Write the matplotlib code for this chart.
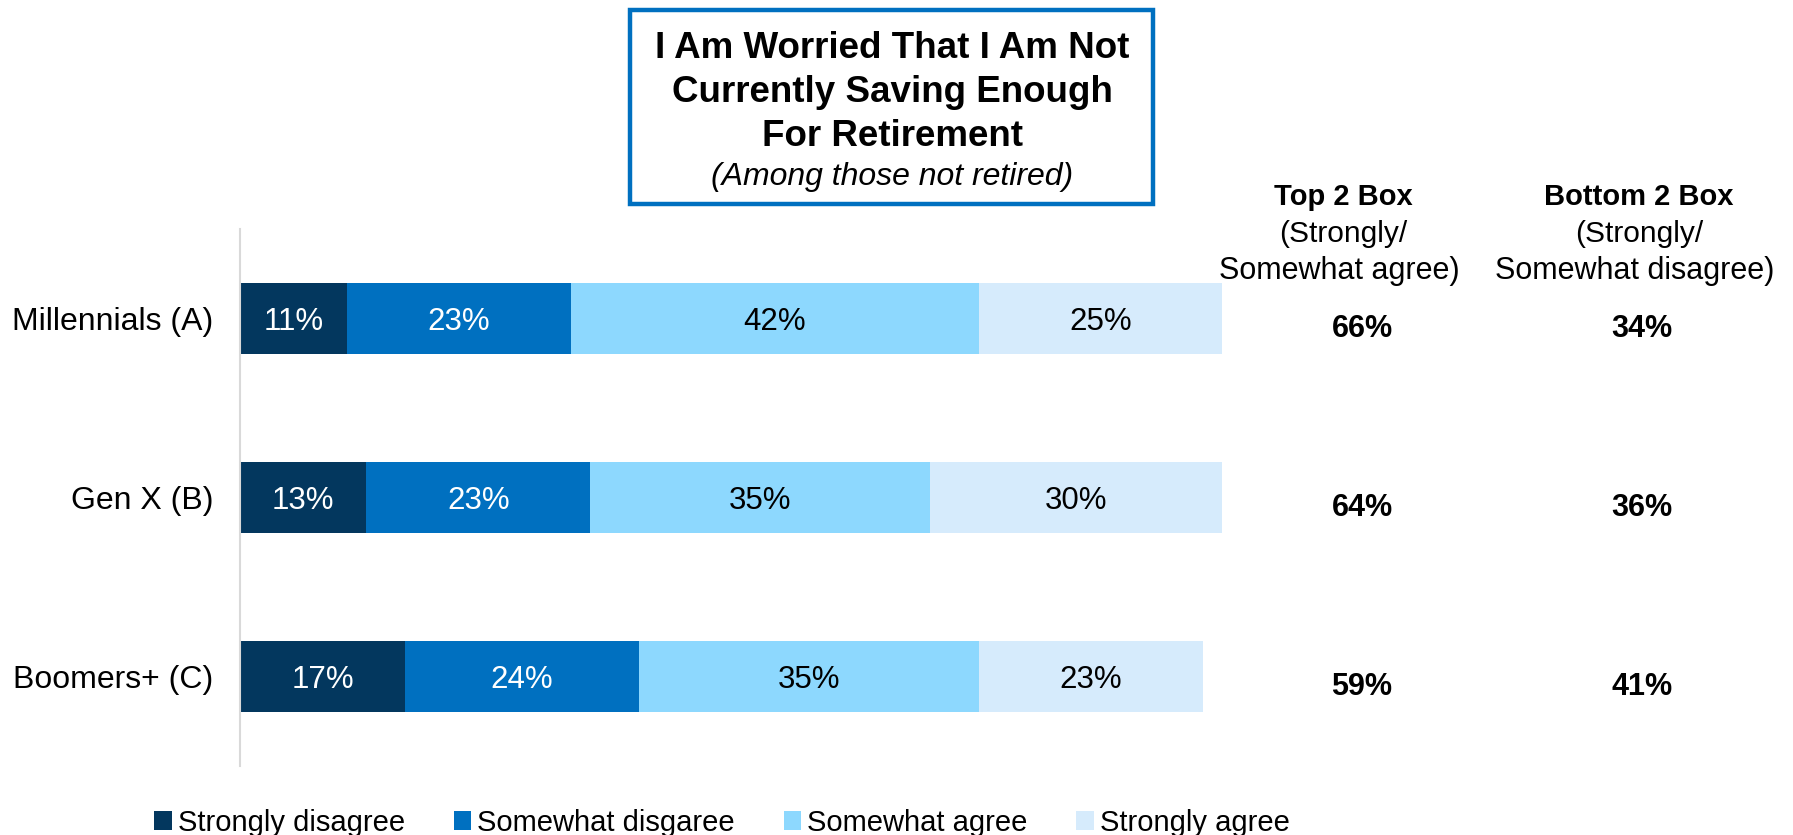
import matplotlib.pyplot as plt
from matplotlib.patches import Rectangle, Patch
from matplotlib import transforms

plt.rcParams['font.family'] = ['Liberation Sans', 'DejaVu Sans']

# survey data
groups = ["Millennials (A)", "Gen X (B)", "Boomers+ (C)"]
responses = ["Strongly disagree", "Somewhat disgaree", "Somewhat agree", "Strongly agree"]
strongly_disagree = [11, 13, 17]
somewhat_disagree = [23, 23, 24]
somewhat_agree = [42, 35, 35]
strongly_agree = [25, 30, 23]
top2 = [66, 64, 59]
bottom2 = [34, 36, 41]

colors = ["#03375E", "#0070C0", "#8DD8FE", "#D6EBFC"]
text_colors = ["white", "white", "black", "black"]

W, H = 1793, 835


def fx(x):
    return x / W


def fy(y):
    return 1 - y / H


fig = plt.figure(figsize=(W / 100, H / 100), dpi=100)
ax = fig.add_axes([fx(240), 69 / H, 982 / W, 537 / H])

y = list(range(len(groups)))
series = [strongly_disagree, somewhat_disagree, somewhat_agree, strongly_agree]
left = [0] * len(groups)
for vals, col, tcol in zip(series, colors, text_colors):
    ax.barh(y, vals, left=left, height=0.4, color=col)
    # percentage inside each segment, nudged a little below centre
    for yi, l, v in zip(y, left, vals):
        ax.annotate(f"{v}%", (l + v / 2, yi), xytext=(0, -2.5),
                    textcoords='offset points', ha='center', va='center',
                    color=tcol, fontsize=22.5)
    left = [l + v for l, v in zip(left, vals)]

ax.set_xlim(0, 101)
ax.set_ylim(2.5, -0.5)
ax.set_yticks(y)
ax.set_yticklabels(groups, fontsize=23)
ax.tick_params(axis='y', length=0, pad=19)
ax.set_xticks([])
for s in ['top', 'right', 'bottom']:
    ax.spines[s].set_visible(False)
ax.spines['left'].set_color('#D9D9D9')
ax.spines['left'].set_linewidth(1.5)

# title box
fig.patches.append(Rectangle((fx(630), fy(204)), (1153 - 630) / W, (204 - 10) / H,
                             transform=fig.transFigure, fill=False,
                             edgecolor="#0070C0", linewidth=3.2))
title_lines = ["I Am Worried That I Am Not", "Currently Saving Enough", "For Retirement"]
for line, yy in zip(title_lines, [49, 92, 136]):
    fig.text(fx(892), fy(yy), line, ha='center', va='center',
             fontsize=26.5, fontweight='bold')
fig.text(fx(892), fy(177), "(Among those not retired)", ha='center', va='center',
         fontsize=23, style='italic')

# top/bottom 2 box columns
cols = [(1343, "Top 2 Box", "Somewhat agree)", top2, 1362),
        (1639, "Bottom 2 Box", "Somewhat disagree)", bottom2, 1642)]
blend = transforms.blended_transform_factory(fig.transFigure, ax.transData)
for cx, head, sub, vals, vx in cols:
    fig.text(fx(cx), fy(197), head, ha='center', va='center',
             fontsize=21, fontweight='bold')
    fig.text(fx(cx), fy(234), "(Strongly/", ha='center', va='center', fontsize=21.5)
    fig.text(fx(cx - 4), fy(271), sub, ha='center', va='center', fontsize=22)
    for yi, v in zip(y, vals):
        ax.text(fx(vx), yi + 0.06, f"{v}%", transform=blend, ha='center',
                va='center', fontsize=22, fontweight='bold')

handles = [Patch(facecolor=c, label=r) for c, r in zip(colors, responses)]
fig.legend(handles=handles, loc='center', bbox_to_anchor=(fx(722), fy(823)),
           ncol=4, frameon=False, fontsize=21, handlelength=0.6, handleheight=0.6,
           handletextpad=0.2, columnspacing=1.68, borderpad=0)

fig.savefig("out.png", dpi=100)
